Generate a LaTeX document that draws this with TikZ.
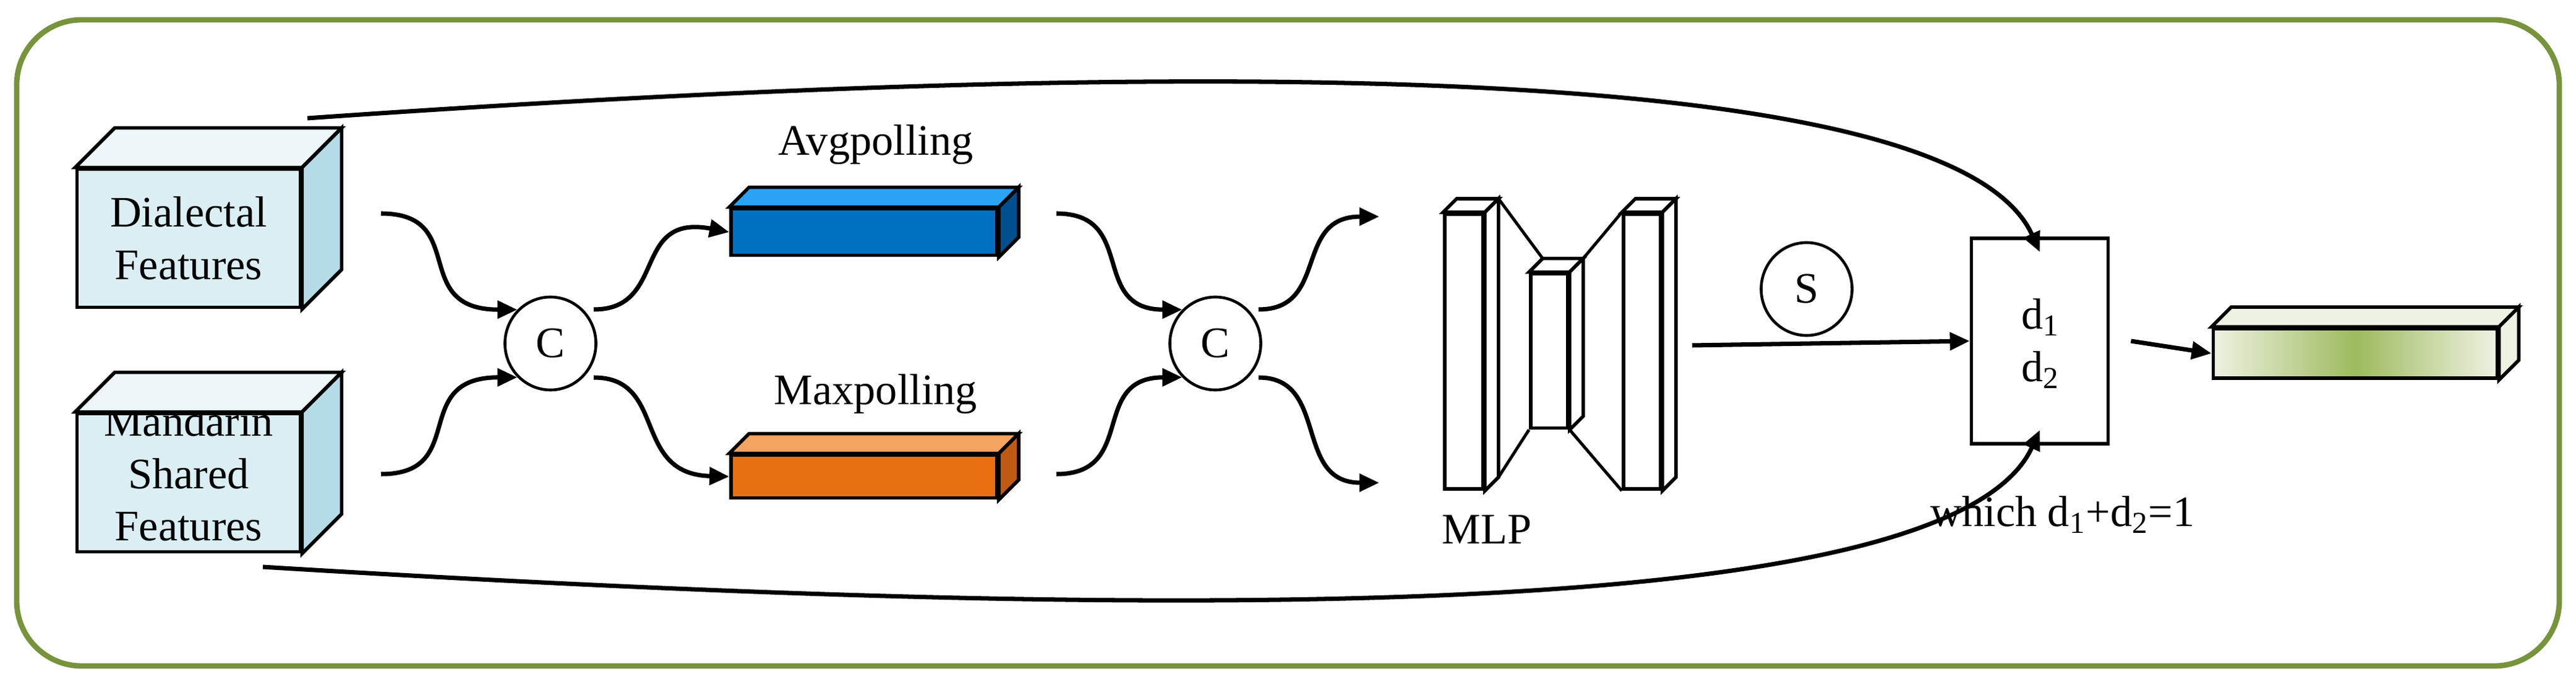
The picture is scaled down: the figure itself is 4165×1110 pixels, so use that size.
\documentclass[tikz,border=0pt]{standalone}
\usepackage{fontspec}
\setmainfont{Liberation Serif}
\usetikzlibrary{arrows.meta,calc}
\definecolor{frame}{HTML}{77933C}
\definecolor{cubef}{HTML}{DBEEF4}
\definecolor{cubet}{HTML}{EDF6F9}
\definecolor{cubes}{HTML}{B5DCE6}
\definecolor{bluef}{HTML}{0070C0}
\definecolor{bluet}{HTML}{2BA3F5}
\definecolor{blues}{HTML}{00508F}
\definecolor{orf}{HTML}{E97010}
\definecolor{ort}{HTML}{F4A460}
\definecolor{ors}{HTML}{BF5A12}
\definecolor{grl}{HTML}{EEF2E2}
\definecolor{grm}{HTML}{9DBB5E}
\newcommand\boxfaces[4]{% node, depth, top colour, side colour
  \filldraw[line width=1.6pt,fill=#3,line join=miter] (#1.north west) -- ([shift={(#2,-#2)}]#1.north west) -- ([shift={(#2,-#2)}]#1.north east) -- (#1.north east) -- cycle;
  \filldraw[line width=1.6pt,fill=#4,line join=miter] (#1.north east) -- ([shift={(#2,-#2)}]#1.north east) -- ([shift={(#2,-#2)}]#1.south east) -- (#1.south east) -- cycle;}
\tikzset{
  face/.style={draw,line width=1.6pt,inner sep=0pt,rectangle,align=center},
  circ/.style={draw,line width=1.3pt,ellipse,minimum width=1.47cm,minimum height=1.5cm,inner sep=0pt},
  arr/.style={line width=2pt,-{Triangle[length=0.32cm,width=0.28cm]}},
  lbl/.style={font=\fontsize{20}{24}\selectfont}
}
\usetikzlibrary{shapes.geometric}
\begin{document}
\begin{tikzpicture}[x=0.01cm,y=-0.01cm,font=\fontsize{20}{24}\selectfont]
\useasboundingbox (0,0) rectangle (4165,1110);
\draw[frame,line width=2.5pt,rounded corners=1.05cm] (27,32) rectangle (4138,1076);
% cubes
\node[face,fill=cubef,minimum width=3.61cm,minimum height=2.23cm] (dial) at (305,385) {Dialectal\\Features};
\boxfaces{dial}{64}{cubet}{cubes}
\node[face,fill=cubef,minimum width=3.61cm,minimum height=2.23cm] (mand) at (305,780) {};
\node[align=center] at (305,765) {Mandarin\\Shared\\Features};
\boxfaces{mand}{64}{cubet}{cubes}
% circles
\node[circ] (c1) at (890,555) {C};
\node[circ] (c2) at (1965,555) {C};
% bars
\node[face,fill=bluef,minimum width=4.3cm,minimum height=0.75cm] (avg) at (1397,375) {};
\boxfaces{avg}{32}{bluet}{blues}
\node[face,fill=orf,minimum width=4.3cm,minimum height=0.69cm] (max) at (1397,770) {};
\boxfaces{max}{32}{ort}{ors}
\node at (1416,234) {Avgpolling};
\node at (1416,637) {Maxpolling};
% coordinates for wavy arrows
\coordinate (d1s) at (616,345);
\coordinate (m1s) at (616,766);
\coordinate (a1s) at (960,500);
\coordinate (b1s) at (960,610);
\coordinate (a2s) at (1708,345);
\coordinate (b2s) at (1708,766);
\coordinate (o1) at (2035,500);
\coordinate (o2) at (2035,610);
\coordinate (mt) at (2230,350);
\coordinate (mb) at (2230,780);
\draw[arr] (d1s) .. controls (760,345) and (660,500) .. (c1.north west);
\draw[arr] (m1s) .. controls (760,766) and (660,610) .. (c1.south west);
\draw[arr] (a1s) .. controls (1080,500) and (1020,345) .. (avg.west);
\draw[arr] (b1s) .. controls (1080,610) and (1020,766) .. (max.west);
\draw[arr] (a2s) .. controls (1840,345) and (1760,500) .. (c2.north west);
\draw[arr] (b2s) .. controls (1840,766) and (1760,610) .. (c2.south west);
\draw[arr] (o1) .. controls (2150,500) and (2090,350) .. (mt);
\draw[arr] (o2) .. controls (2150,610) and (2090,780) .. (mb);
% MLP
\node[face,fill=white,minimum width=0.62cm,minimum height=4.44cm] (l1) at (2367,568) {};
\boxfaces{l1}{22}{white}{white}
\node[face,fill=white,minimum width=0.6cm,minimum height=2.49cm] (l2) at (2505,567) {};
\boxfaces{l2}{22}{white}{white}
\node[face,fill=white,minimum width=0.6cm,minimum height=4.44cm] (l3) at (2655,568) {};
\boxfaces{l3}{22}{white}{white}
\draw[line width=1.4pt] ([shift={(22,-22)}]l1.north east) -- ([shift={(22,-22)}]l2.north west);
\draw[line width=1.4pt] ([shift={(22,-22)}]l2.north east) -- (l3.north west);
\draw[line width=1.4pt] ([shift={(22,-22)}]l1.south east) -- (l2.south west);
\draw[line width=1.4pt] (l2.south east) -- (l3.south west);
\node at (2404,855) {MLP};
% S and d box
\node[circ] (s) at (2921,467) {S};
\node[face,fill=white,minimum width=2.21cm,minimum height=3.32cm] (dbox) at (3298,551) {};
\node at (3299,513) {d\textsubscript{1}};
\node at (3299,598) {d\textsubscript{2}};
\coordinate (ms) at (2736,558);
\draw[arr] (ms) -- (dbox.west);
% green bar
\node[face,minimum width=4.59cm,minimum height=0.8cm,left color=grl,right color=grl,middle color=grm] (gbar) at (3808,571) {};
\filldraw[line width=1.6pt,fill=grl] (gbar.north west) -- ([shift={(32,-32)}]gbar.north west) -- ([shift={(32,-32)}]gbar.north east) -- (gbar.north east) -- cycle;
\filldraw[line width=1.6pt,fill=grl] (gbar.north east) -- ([shift={(32,-32)}]gbar.north east) -- ([shift={(32,-32)}]gbar.south east) -- (gbar.south east) -- cycle;
\draw[arr] (dbox.east) ++(34,0) coordinate (ge) -- (gbar.west);
% long curves
\coordinate (ts) at (497,191);
\coordinate (bs) at (425,916);
\draw[arr] (ts) .. controls (1800,100) and (3150,80) .. ([yshift=-0.25cm]dbox.north);
\draw[arr] (bs) .. controls (1800,1000) and (3150,1020) .. ([yshift=0.25cm]dbox.south);
\node at (3335,832) {which d\textsubscript{1}+d\textsubscript{2}=1};
\end{tikzpicture}
\end{document}
